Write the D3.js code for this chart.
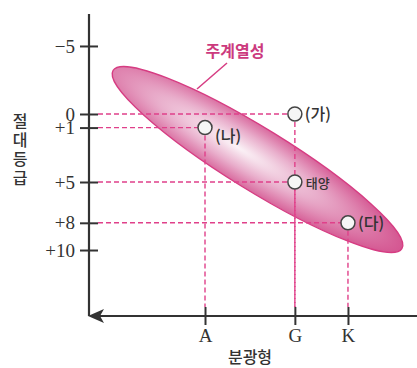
<!DOCTYPE html>
<html><head><meta charset="utf-8">
<script src="https://cdn.jsdelivr.net/npm/d3@7"></script>
<style>body{margin:0;background:#fff}svg{display:block}</style>
</head><body>
<svg id="c" width="417" height="368"></svg>
<script>
// ---- data ----
const magTicks = [-5, 0, 1, 5, 8, 10];
const magTickLabels = ["\u22125", "0", "+1", "+5", "+8", "+10"];
const classTicks = [20, 42, 55];           // A0, G2, K5 on a spectral index
const classTickLabels = ["A", "G", "K"];
const starNames = ["(가)", "(나)", "태양", "(다)"];
const starClass = [42, 20, 42, 55];
const starMag = [0, 1, 5, 8];
const msEnds = [[-2.5, -3.2], [68.2, 9.9]];  // main-sequence band ends (class, mag)
const msLabel = "주계열성";

// ---- scales ----
const x = d3.scaleLinear().domain([-8.4, 71.9]).range([89, 417]);
const y = d3.scaleLinear().domain([-7.35, 14.85]).range([14, 316]);
const svg = d3.select("#c");
const pink = "#e0408a";
const axisCol = "#333";

// gradient
const defs = svg.append("defs");
const g = defs.append("radialGradient").attr("id", "ms")
  .attr("cx", "0.43").attr("cy", "0.5").attr("r", "0.6");
g.append("stop").attr("offset", "0").attr("stop-color", "#fbf3f7");
g.append("stop").attr("offset", "0.45").attr("stop-color", "#e9afcc");
g.append("stop").attr("offset", "1").attr("stop-color", "#d24d8b");

// main sequence ellipse
const p1 = [x(msEnds[0][0]), y(msEnds[0][1])], p2 = [x(msEnds[1][0]), y(msEnds[1][1])];
const cx = (p1[0] + p2[0]) / 2, cy = (p1[1] + p2[1]) / 2;
const ang = Math.atan2(p2[1] - p1[1], p2[0] - p1[0]) * 180 / Math.PI;
const rx = Math.hypot(p2[0] - p1[0], p2[1] - p1[1]) / 2;
svg.append("ellipse").attr("cx", 0).attr("cy", 0).attr("rx", rx).attr("ry", 31)
  .attr("transform", `translate(${cx},${cy}) rotate(${ang})`)
  .attr("fill", "url(#ms)").attr("stroke", "#d63c82").attr("stroke-width", 1.3);

// label + leader
svg.append("line").attr("x1", 227).attr("y1", 63).attr("x2", 197).attr("y2", 89)
  .attr("stroke", "#d63c82").attr("stroke-width", 1.5);
svg.append("text").attr("x", 235).attr("y", 57).attr("text-anchor", "middle")
  .attr("font-family", "'Noto Sans CJK KR', sans-serif").attr("font-weight", "bold")
  .attr("font-size", 16).attr("fill", "#cc3a7e").text(msLabel);

// dashed guides
const stars = starNames.map((n, i) => ({ n, c: starClass[i], m: starMag[i] }));
svg.selectAll(".h").data(stars).enter().append("line")
  .attr("x1", 98).attr("x2", d => x(d.c)).attr("y1", d => y(d.m)).attr("y2", d => y(d.m))
  .attr("stroke", pink).attr("stroke-width", 1.4).attr("stroke-dasharray", "5,3");
svg.selectAll(".v").data(stars).enter().append("line")
  .attr("x1", d => x(d.c)).attr("x2", d => x(d.c)).attr("y1", d => y(d.m)).attr("y2", 307)
  .attr("stroke", pink).attr("stroke-width", 1.4).attr("stroke-dasharray", "5,3");

// axes
const yAxis = d3.axisLeft(y).tickValues(magTicks).tickFormat((d, i) => magTickLabels[i]).tickSize(0).tickPadding(14);
const ya = svg.append("g").attr("transform", "translate(89,0)").call(yAxis);
ya.select(".domain").remove();
ya.selectAll("text").attr("font-family", "'Liberation Serif', serif").attr("font-size", 19).attr("fill", "#333");
ya.selectAll(".tick").append("line").attr("x1", -9).attr("x2", 9).attr("stroke", axisCol).attr("stroke-width", 2);

const xAxis = d3.axisBottom(x).tickValues(classTicks).tickFormat((d, i) => classTickLabels[i]).tickSize(0).tickPadding(13);
const xa = svg.append("g").attr("transform", "translate(0,316)").call(xAxis);
xa.select(".domain").remove();
xa.selectAll("text").attr("font-family", "'Liberation Serif', serif").attr("font-size", 19).attr("fill", "#333");
xa.selectAll(".tick").append("line").attr("y1", -9).attr("y2", 9).attr("stroke", axisCol).attr("stroke-width", 2);

svg.append("line").attr("x1", 89).attr("x2", 89).attr("y1", 14).attr("y2", 316).attr("stroke", axisCol).attr("stroke-width", 2.2);
svg.append("line").attr("x1", 92).attr("x2", 417).attr("y1", 316).attr("y2", 316).attr("stroke", axisCol).attr("stroke-width", 2.2);
svg.append("path").attr("d", "M88,316 L104,309 L100,316 L104,323 Z").attr("fill", axisCol);

// axis titles
svg.append("text").attr("x", 250).attr("y", 363).attr("text-anchor", "middle")
  .attr("font-family", "'Noto Sans CJK KR', sans-serif").attr("font-weight", 500).attr("font-size", 16).attr("fill", "#333").text("분광형");
const yt = svg.append("text").attr("text-anchor", "middle")
  .attr("font-family", "'Noto Sans CJK KR', sans-serif").attr("font-weight", 500).attr("font-size", 16).attr("fill", "#333");
"절대등급".split("").forEach((ch, i) => yt.append("tspan").attr("x", 20).attr("y", 127 + i * 19).text(ch));

// stars
svg.selectAll(".s").data(stars).enter().append("circle")
  .attr("cx", d => x(d.c)).attr("cy", d => y(d.m)).attr("r", 7)
  .attr("fill", "#f6f6f6").attr("stroke", "#444").attr("stroke-width", 1.5);
svg.selectAll(".l").data(stars).enter().append("text")
  .attr("x", d => x(d.c) + (d.n === "태양" ? 11 : 10))
  .attr("y", (d, i) => y(d.m) + (d.n === "(나)" ? 14 : 6))
  .attr("font-family", "'Noto Sans CJK KR', sans-serif").attr("font-weight", 500)
  .attr("font-size", d => d.n === "태양" ? 13 : 16).attr("fill", "#333").text(d => d.n);
</script>
</body></html>
